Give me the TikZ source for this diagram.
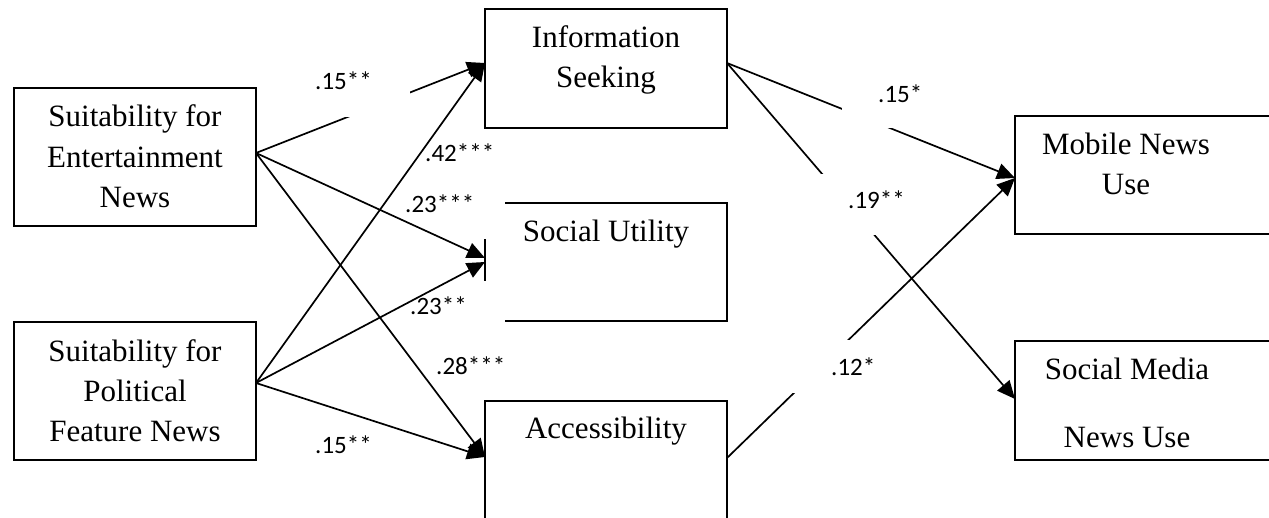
\documentclass[tikz,border=0pt]{standalone}
\usepackage{fontspec}
\setmainfont{Liberation Serif}
\newfontfamily\coeffont{Carlito}
\usetikzlibrary{arrows.meta,calc}
\begin{document}
\begin{tikzpicture}[x=1pt,y=-1pt,
  box/.style={draw, line width=2.2pt, inner sep=0pt, outer sep=0pt},
  boxtext/.style={align=center, anchor=base, inner sep=0pt,
    font=\fontsize{31}{40.5}\selectfont},
  pathway/.style={line width=1.7pt, -{Triangle[length=18pt,width=16pt]}},
  coef/.style={anchor=base west, inner sep=0pt,
    font=\coeffont\fontsize{25}{30}\selectfont},
  mask/.style={fill=white, draw=none}]
\useasboundingbox (0,0) rectangle (1269,518);
\clip (0,0) rectangle (1269,518);

% boxes
\node[box, minimum width=242pt, minimum height=138pt] (ent) at (135,157) {};
\node[box, minimum width=242pt, minimum height=138pt] (pol) at (135,391) {};
\node[box, minimum width=242pt, minimum height=119pt] (info) at (606,68.5) {};
\node[box, minimum width=242pt, minimum height=118pt] (soc) at (606,262) {};
\node[box, minimum width=242pt, minimum height=129pt] (acc) at (606,465.5) {};
\node[box, minimum width=285pt, minimum height=118pt] (mob) at (1157.5,175) {};
\node[box, minimum width=285pt, minimum height=119pt] (smu) at (1157.5,400.5) {};

% paths
\draw[pathway] ($(ent.east)+(0,-4)$) -- ($(info.west)+(0,-5.5)$);
\draw[pathway] ($(ent.east)+(0,-4)$) -- ($(soc.west)+(0,-4)$);
\draw[pathway] ($(ent.east)+(0,-4)$) -- ($(acc.west)+(0,-8.5)$);
\draw[pathway] ($(pol.east)+(0,-8)$) -- ($(info.west)+(0,-5.5)$);
\draw[pathway] ($(pol.east)+(0,-8)$) -- (soc.west);
\draw[pathway] ($(pol.east)+(0,-8)$) -- ($(acc.west)+(0,-8.5)$);
\draw[pathway] ($(info.east)+(0,-5.5)$) -- ($(mob.west)+(0,3)$);
\draw[pathway] ($(info.east)+(0,-5.5)$) -- ($(smu.west)+(0,-1.5)$);
\draw[pathway] ($(acc.east)+(0,-7.5)$) -- ($(mob.west)+(0,3)$);

% label backgrounds
\fill[mask] (300,62) rectangle (410,117);
\fill[mask] (842,70) rectangle (950,128);
\fill[mask] (810,174) rectangle (935,235);
\fill[mask] (785,340) rectangle (900,393);
\fill[mask] (478,198) rectangle (505,239);
\fill[mask] (478,281) rectangle (505,326);

% box texts (anchored at the baseline of the last line)
\node[boxtext] (entT) at (135,208) {Suitability for\\Entertainment\\News};
\node[boxtext] (polT) at (135,442) {Suitability for\\Political\\Feature News};
\node[boxtext] (infoT) at (606,88) {Information\\Seeking};
\node[boxtext] (socT) at (606,242) {Social Utility};
\node[boxtext] (accT) at (606,438) {Accessibility};
\node[boxtext] (mobT) at (1126,195) {Mobile News\\Use};
\node[boxtext] (smuT) at (1127,447) {Social Media\\[27pt]News Use};

% coefficients
\node[coef] (c1) at (315,90) {.15**};
\node[coef] (c2) at (425,162) {.42***};
\node[coef] (c3) at (405,213) {.23***};
\node[coef] (c4) at (410,315) {.23**};
\node[coef] (c5) at (436,375) {.28***};
\node[coef] (c6) at (315,453) {.15**};
\node[coef] (c7) at (878,103) {.15*};
\node[coef] (c8) at (848,209) {.19**};
\node[coef] (c9) at (831,376) {.12*};
\end{tikzpicture}
\end{document}
